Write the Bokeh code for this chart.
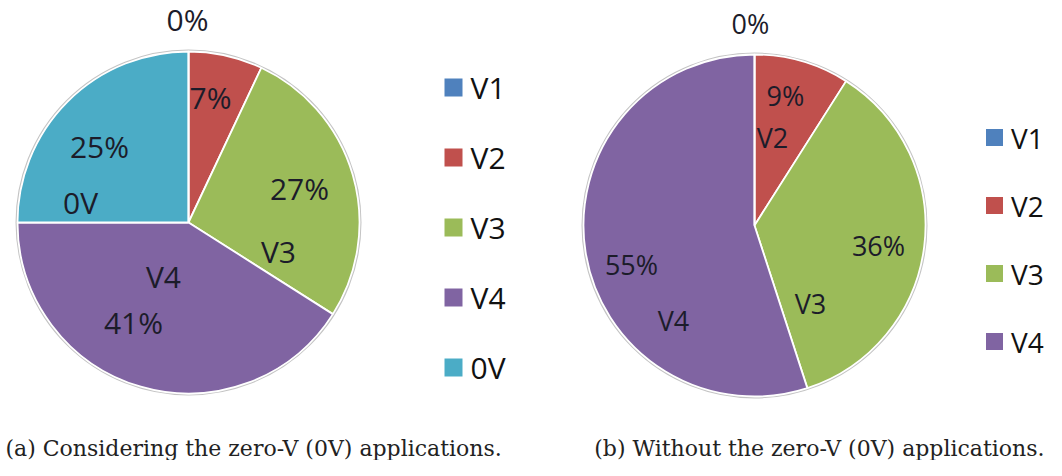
import numpy as np
from bokeh.plotting import figure
from bokeh.models import Range1d, ColumnDataSource
from bokeh.core.properties import value
from bokeh.embed import file_html
from bokeh.resources import INLINE

# ---------------- data ----------------
categories_a = ["V1", "V2", "V3", "V4", "0V"]
values_a = [0, 7, 27, 41, 25]
categories_b = ["V1", "V2", "V3", "V4"]
values_b = [0, 9, 36, 55]
palette = {"V1": "#4F81BD", "V2": "#C0504D", "V3": "#9BBB59", "V4": "#8064A2", "0V": "#4BACC6"}
caption_a = "(a) Considering the zero-V (0V) applications."
caption_b = "(b) Without the zero-V (0V) applications."

# which texts each slice shows (percentage / category name)
show_a = {"V1": ["pct"], "V2": ["pct"], "V3": ["pct", "cat"], "V4": ["cat", "pct"], "0V": ["pct", "cat"]}
show_b = {"V1": ["pct"], "V2": ["pct", "cat"], "V3": ["pct", "cat"], "V4": ["pct", "cat"]}

# ---------------- layout (reference pixel coords, y down) ----------------
W, H = 1046, 460
LABEL_COLOR = "#1c1c2a"
FONT = "Open Sans"
CAP_FONT = "DejaVu Serif"

panels = [
    dict(cats=categories_a, vals=values_a, show=show_a, cx=188, cy=222, r=171, fs=30,
         offs={("V1", "pct"): (-1, -203), ("V2", "pct"): (22, -125),
               ("V3", "pct"): (111, -34), ("V3", "cat"): (90, 29),
               ("V4", "cat"): (-25, 54), ("V4", "pct"): (-55, 100),
               ("0V", "pct"): (-89, -76), ("0V", "cat"): (-108, -20)},
         leg_x=453, leg_y0=87, leg_dy=70, leg_fs=30, leg_sq=18,
         cap=caption_a, cap_x=5, cap_align="left", cap_y=448),
    dict(cats=categories_b, vals=values_b, show=show_b, cx=754, cy=225, r=171, fs=27,
         offs={("V1", "pct"): (-4, -202), ("V2", "pct"): (31, -130), ("V2", "cat"): (18, -88),
               ("V3", "pct"): (124, 20), ("V3", "cat"): (56, 78),
               ("V4", "pct"): (-123, 39), ("V4", "cat"): (-81, 95)},
         leg_x=994, leg_y0=137, leg_dy=68, leg_fs=28, leg_sq=17,
         cap=caption_b, cap_x=1044, cap_align="right", cap_y=448),
]


def Y(ry):
    return 476 - ry


p = figure(width=W, height=H, output_backend="svg", toolbar_location=None,
           x_range=Range1d(0, W), y_range=Range1d(476 - H, 476),
           min_border=0, min_border_left=0, min_border_right=0,
           min_border_top=0, min_border_bottom=0)
p.axis.visible = False
p.grid.visible = False
p.outline_line_color = None
p.background_fill_color = "white"
p.border_fill_color = "white"

for pn in panels:
    vals = np.array(pn["vals"], dtype=float)
    frac = vals / vals.sum()
    cum = np.concatenate([[0.0], np.cumsum(frac)])
    # clockwise from 12 o'clock
    a0 = np.pi / 2 - 2 * np.pi * cum[:-1]
    a1 = np.pi / 2 - 2 * np.pi * cum[1:]
    keep = vals > 0
    src = ColumnDataSource(dict(
        x=[pn["cx"]] * int(keep.sum()),
        y=[Y(pn["cy"])] * int(keep.sum()),
        start=list(a1[keep]), end=list(a0[keep]),
        color=[palette[c] for c, k in zip(pn["cats"], keep) if k],
    ))
    # soft outer rim
    p.circle(x=pn["cx"], y=Y(pn["cy"]), radius=pn["r"] + 1, fill_color=None,
             line_color="#c4c4c4", line_width=2)
    p.wedge(x="x", y="y", radius=pn["r"], start_angle="start", end_angle="end",
            fill_color="color", line_color="white", line_width=1.8, source=src)
    # thin separator at 12 o'clock (zero slice boundary)
    p.segment(x0=pn["cx"], y0=Y(pn["cy"]), x1=pn["cx"], y1=Y(pn["cy"]) + pn["r"],
              line_color="white", line_width=1.8)

    # slice labels
    lx, ly, lt = [], [], []
    for c, v in zip(pn["cats"], pn["vals"]):
        for kind in pn["show"][c]:
            dx, dy = pn["offs"][(c, kind)]
            lx.append(pn["cx"] + dx)
            ly.append(Y(pn["cy"] + dy))
            lt.append(f"{v}%" if kind == "pct" else c)
    p.text(x=lx, y=ly, text=lt, text_font=value(FONT), text_font_size=f"{pn['fs']}px",
           text_color=LABEL_COLOR, text_align="center", text_baseline="middle")

    # legend
    n = len(pn["cats"])
    gy = [Y(pn["leg_y0"] + i * pn["leg_dy"]) for i in range(n)]
    p.rect(x=[pn["leg_x"]] * n, y=gy, width=pn["leg_sq"], height=pn["leg_sq"],
           fill_color=[palette[c] for c in pn["cats"]], line_color=None)
    p.text(x=[pn["leg_x"] + pn["leg_sq"] / 2 + 8] * n, y=gy, text=pn["cats"],
           text_font=value(FONT), text_font_size=f"{pn['leg_fs']}px",
           text_color="#111111", text_align="left", text_baseline="middle")

    # caption
    p.text(x=[pn["cap_x"]], y=[Y(pn["cap_y"])], text=[pn["cap"]],
           text_font=value(CAP_FONT), text_font_size="22px",
           text_color="#222222", text_align=pn["cap_align"], text_baseline="alphabetic")

open("out.html", "w").write(file_html(p, INLINE))
